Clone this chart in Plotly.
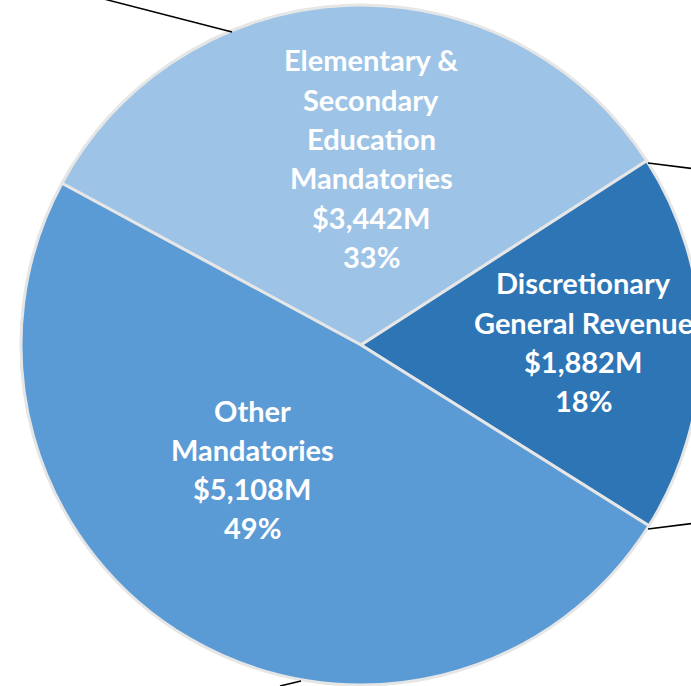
import plotly.graph_objects as go

labels = ["Elementary & Secondary Education Mandatories",
          "Discretionary General Revenue",
          "Other Mandatories"]
values = [3442, 1882, 5108]
colors = ["#9DC3E6", "#2E75B6", "#5B9BD5"]

# label lines per slice and where each block sits (pixel center of first line)
label_lines = [
    ["Elementary &", "Secondary", "Education", "Mandatories"],
    ["Discretionary", "General Revenue"],
    ["Other", "Mandatories"],
]
label_pos = [(371, 60), (583, 283), (252, 410)]

W, H = 710, 686
cx, cy, r = 361, 345, 340

fig = go.Figure()
fig.add_trace(
    go.Pie(
        labels=labels,
        values=values,
        sort=False,
        direction="clockwise",
        rotation=-61.6,
        marker=dict(colors=colors, line=dict(color="#E6E6E6", width=3)),
        textinfo="none",
        hoverinfo="label+value+percent",
        showlegend=False,
        domain=dict(x=[(cx - r) / W, (cx + r) / W], y=[1 - (cy + r) / H, 1 - (cy - r) / H]),
    )
)

total = sum(values)
step = 39.3
for lines, (x, y0), v in zip(label_lines, label_pos, values):
    text_rows = lines + [f"${v:,}M", f"{round(100 * v / total)}%"]
    for i, t in enumerate(text_rows):
        fig.add_annotation(
            x=x / W, y=1 - (y0 + i * step) / H, xref="paper", yref="paper",
            text=f"<b>{t}</b>", showarrow=False,
            font=dict(family="Lato", size=29, color="white"),
            xanchor="center", yanchor="middle",
        )

# leader lines running out of the cropped view
leaders = [((100, -2), (232, 32)), ((648, 163), (720, 172)),
           ((648, 529), (720, 520)), ((280, 686), (301, 681))]
for (x0, y0), (x1, y1) in leaders:
    fig.add_shape(type="line", xref="paper", yref="paper",
                  x0=x0 / W, y0=1 - y0 / H, x1=x1 / W, y1=1 - y1 / H,
                  line=dict(color="black", width=1.5))

fig.update_layout(
    width=W, height=H,
    margin=dict(l=0, r=0, t=0, b=0),
    paper_bgcolor="white",
    plot_bgcolor="white",
)

fig.write_html(
    "out.html",
    config={"displayModeBar": False},
    post_script="document.body.style.margin='0';document.body.style.overflow='hidden';",
)
